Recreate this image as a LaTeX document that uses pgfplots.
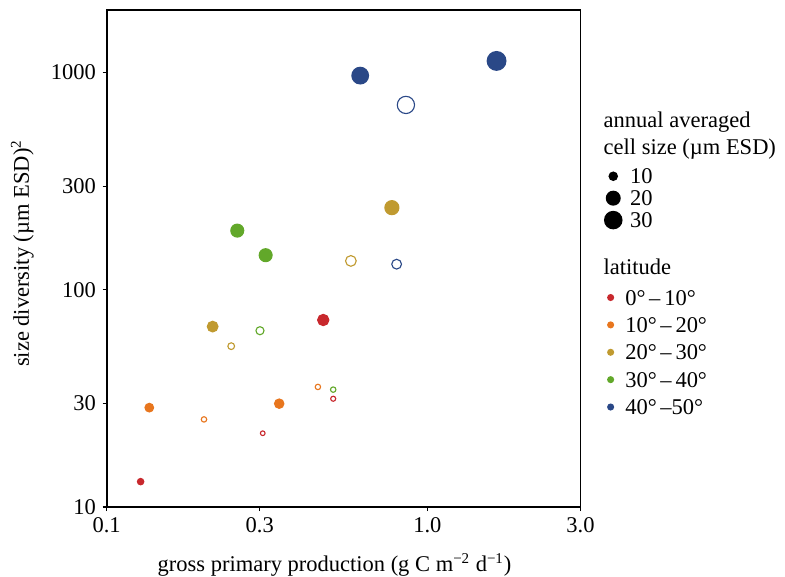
\documentclass[border=0pt]{standalone}
\usepackage{fontspec}
\setmainfont{Liberation Serif}
\usepackage{pgfplots}
\pgfplotsset{compat=1.18}
\definecolor{cRed}{RGB}{200,40,45}
\definecolor{cOrange}{RGB}{232,118,30}
\definecolor{cGold}{RGB}{192,154,48}
\definecolor{cGreen}{RGB}{98,168,42}
\definecolor{cBlue}{RGB}{42,72,135}
\pgfplotsset{
  pt/.style 2 args={only marks, scatter, forget plot, mark=#2,
    scatter/use mapped color={draw=#1, fill=#1},
    visualization depends on={\thisrow{r}\as\markr},
    scatter/@pre marker code/.append style={/tikz/mark size=\markr pt},
    mark options={line width=0.6pt}},
}
\newcommand{\fs}{\fontsize{12}{14.4}\selectfont}
\begin{document}
\begin{tikzpicture}[font=\fs]
\begin{axis}[scale only axis, width=252.7pt, height=265.1pt,
  xmode=log, ymode=log, xmin=0.1, xmax=3, ymin=10, ymax=1944,
  name=ax,
  xtick={0.1,0.3,1,3}, xticklabels={0.1,0.3,1.0,3.0},
  ytick={10,30,100,300,1000}, yticklabels={10,30,100,300,1000},
  minor xtick={}, minor ytick={},
  tick align=outside, tick pos=left, major tick length=2.2pt,
  axis line style={line width=0.9pt},
  every tick/.style={black, line width=0.7pt},
  /pgf/number format/assume math mode=true,
  tick label style={font=\fs},
  xlabel={gross primary production (g C m\textsuperscript{−2} d\textsuperscript{−1})},
  ylabel={size diversity (µm ESD)\textsuperscript{2}},
  xlabel style={at={(axis description cs:0.481,-0.1166)}, anchor=center},
  ylabel style={at={(axis description cs:-0.178,0.51)}, anchor=center},
  clip=false,
  legend cell align=left,
  legend style={at={(axis description cs:1,1)}, anchor=north west,
    xshift=12.05pt, yshift=-83.25pt, draw=none, fill=none, inner sep=0pt,
    row sep=1.2pt, column sep=3.8pt,
    nodes={inner sep=0pt, text depth=0pt}, font=\fs},
]
\addplot[pt={cRed}{*}] table {
x y r
0.1276 13.08 1.7
0.4734 72.6 3.0
};
\addplot[pt={cRed}{o}] table {
x y r
0.3066 21.85 1.25
0.5085 31.5 1.35
};
\addplot[pt={cOrange}{*}] table {
x y r
0.1358 28.66 2.3
0.3451 29.9 2.5
};
\addplot[pt={cOrange}{o}] table {
x y r
0.2011 25.3 1.45
0.4556 35.7 1.45
};
\addplot[pt={cGold}{*}] table {
x y r
0.214 67.7 2.85
0.775 238.9 3.75
};
\addplot[pt={cGold}{o}] table {
x y r
0.2445 55.0 1.8
0.5773 135.8 2.85
};
\addplot[pt={cGreen}{*}] table {
x y r
0.2554 187.3 3.45
0.3131 144.3 3.45
};
\addplot[pt={cGreen}{o}] table {
x y r
0.3006 64.8 2.15
0.5085 34.7 1.45
};
\addplot[pt={cBlue}{*}] table {
x y r
0.6173 968.7 4.45
1.643 1132 5.0
};
\addplot[pt={cBlue}{o}] table {
x y r
0.857 710 4.6
0.8017 131.2 2.6
};
\addlegendimage{legend image code/.code={\path[draw=none,fill=none] (-5.25pt,-5.25pt) rectangle (5.25pt,5.25pt); \fill[black,draw=none] (0pt,0pt) circle (2.55pt);}}
\addlegendentry{10}
\addlegendimage{legend image code/.code={\path[draw=none,fill=none] (-5.25pt,-5.25pt) rectangle (5.25pt,5.25pt); \fill[black,draw=none] (0pt,0pt) circle (4pt);}}
\addlegendentry{20}
\addlegendimage{legend image code/.code={\path[draw=none,fill=none] (-5.25pt,-5.25pt) rectangle (5.25pt,5.25pt); \fill[black,draw=none] (0pt,0pt) circle (4.95pt);}}
\addlegendentry{30}
\end{axis}
\begin{axis}[scale only axis, width=252.7pt, height=265.1pt,
  xmode=log, ymode=log, xmin=0.1, xmax=3, ymin=10, ymax=1944,
  hide axis,
  legend cell align=left,
  legend style={at={(axis description cs:1,1)}, anchor=north west,
    xshift=12.9pt, yshift=-148.2pt, draw=none, fill=none, inner sep=0pt,
    row sep=4.6pt, column sep=4.8pt,
    nodes={inner sep=0pt, text depth=0pt}, font=\fs},
]
\addlegendimage{legend image code/.code={\path[draw=none,fill=none] (-3pt,-5pt) rectangle (3pt,5pt); \fill[cRed,draw=none] (0pt,0pt) circle (1.9pt);}}
\addlegendentry{0°\,–\,10°}
\addlegendimage{legend image code/.code={\path[draw=none,fill=none] (-3pt,-5pt) rectangle (3pt,5pt); \fill[cOrange,draw=none] (0pt,0pt) circle (1.9pt);}}
\addlegendentry{10°\,–\,20°}
\addlegendimage{legend image code/.code={\path[draw=none,fill=none] (-3pt,-5pt) rectangle (3pt,5pt); \fill[cGold,draw=none] (0pt,0pt) circle (1.9pt);}}
\addlegendentry{20°\,–\,30°}
\addlegendimage{legend image code/.code={\path[draw=none,fill=none] (-3pt,-5pt) rectangle (3pt,5pt); \fill[cGreen,draw=none] (0pt,0pt) circle (1.9pt);}}
\addlegendentry{30°\,–\,40°}
\addlegendimage{legend image code/.code={\path[draw=none,fill=none] (-3pt,-5pt) rectangle (3pt,5pt); \fill[cBlue,draw=none] (0pt,0pt) circle (1.9pt);}}
\addlegendentry{40°\,–50°}
\end{axis}
\node[anchor=base west, inner sep=0pt] at ([shift={(264.9pt,-62.6pt)}]ax.north west) {annual averaged};
\node[anchor=base west, inner sep=0pt] at ([shift={(264.9pt,-77.3pt)}]ax.north west) {cell size (µm ESD)};
\node[anchor=base west, inner sep=0pt] at ([shift={(264.9pt,-141.3pt)}]ax.north west) {latitude};
\pgfresetboundingbox
\path ([shift={(-56.9pt,-37.3pt)}]ax.south west) rectangle ([shift={(361.8pt,270.4pt)}]ax.south west);
\end{tikzpicture}
\end{document}
